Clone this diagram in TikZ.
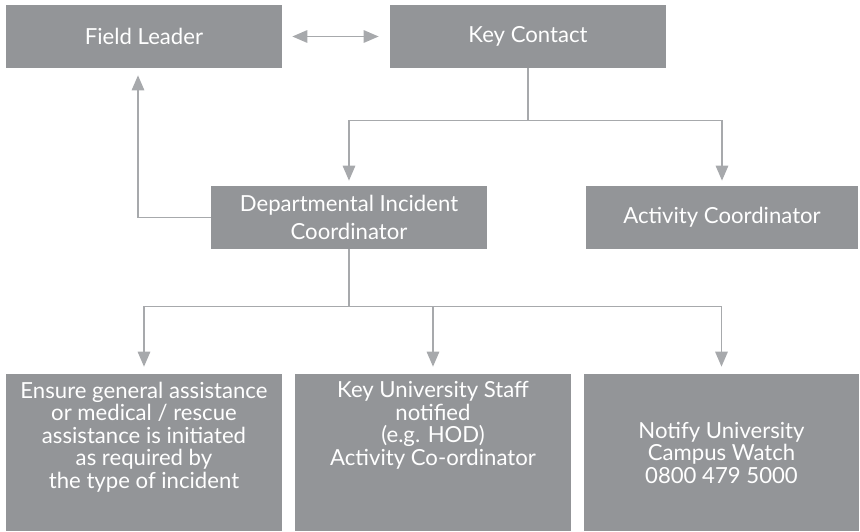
\documentclass[tikz,border=0pt]{standalone}
\usepackage{fontspec}
\setmainfont{Lato}
\usetikzlibrary{arrows.meta,positioning}
\definecolor{boxGrey}{HTML}{939598}
\definecolor{lineGrey}{HTML}{A7A9AC}

\begin{document}
\begin{tikzpicture}[
    font=\fontsize{12.6}{15.9}\selectfont,
    >={Triangle[length=3mm,width=2.5mm]},
    box/.style={fill=boxGrey, text=white, inner sep=0pt, align=center,
                minimum width=#1, minimum height=1.26cm},
    tallbox/.style={box=#1, minimum height=3.14cm,
                    font=\fontsize{12.6}{12.8}\selectfont},
    txt/.style={text=white, inner sep=0pt, align=center,
                font=\fontsize{12.6}{12.8}\selectfont},
    arr/.style={->, line width=0.9pt, draw=lineGrey},
  ]
  \useasboundingbox (0,0) rectangle (17.2,-10.62);
  % top row
  \node[box=5.52cm] (fl)  at (2.88,-0.73)  {Field Leader};
  \node[box=5.52cm] (kc)  at (10.56,-0.73) {Key Contact};
  % middle row
  \node[box=5.52cm] (dic) at (6.98,-4.35)  {Departmental Incident\\Coordinator};
  \node[box=5.44cm] (ac)  at (14.44,-4.35) {Activity Coordinator};
  % bottom row
  \node[tallbox=5.52cm] (aid)   at (2.88,-9.05)  {};
  \node[tallbox=5.52cm] (staff) at (8.66,-9.05)  {};
  \node[tallbox=5.50cm] (watch) at (14.43,-9.05)
        {Notify University\\Campus Watch\\0800 479 5000};
  \node[txt] (aidtxt)   at (2.88,-8.74) {Ensure general assistance\\or medical / rescue\\assistance is initiated\\as required by\\the type of incident};
  \node[txt] (stafftxt) at (8.66,-8.51) {Key University Staff\\notified\\(e.g. HOD)\\Activity Co-ordinator};
  % arrows
  \draw[arr, <->, shorten <=0.2cm, shorten >=0.22cm] (fl) -- (kc);
  \draw[arr, shorten >=0.1cm] (kc.south) -- ++(0,-1.04) -| (dic.north);
  \draw[arr, shorten >=0.1cm] (kc.south) -- ++(0,-1.04) -| (ac.north);
  \draw[arr, shorten >=0.14cm] (dic.west) -| ([xshift=-0.12cm]fl.south);
  \draw[arr, shorten >=0.14cm] (dic.south) -- ++(0,-1.14) -| (aid.north);
  \draw[arr, shorten >=0.14cm] (dic.south) -- ++(0,-1.14) -| (staff.north);
  \draw[arr, shorten >=0.14cm] (dic.south) -- ++(0,-1.14) -| (watch.north);
\end{tikzpicture}
\end{document}
